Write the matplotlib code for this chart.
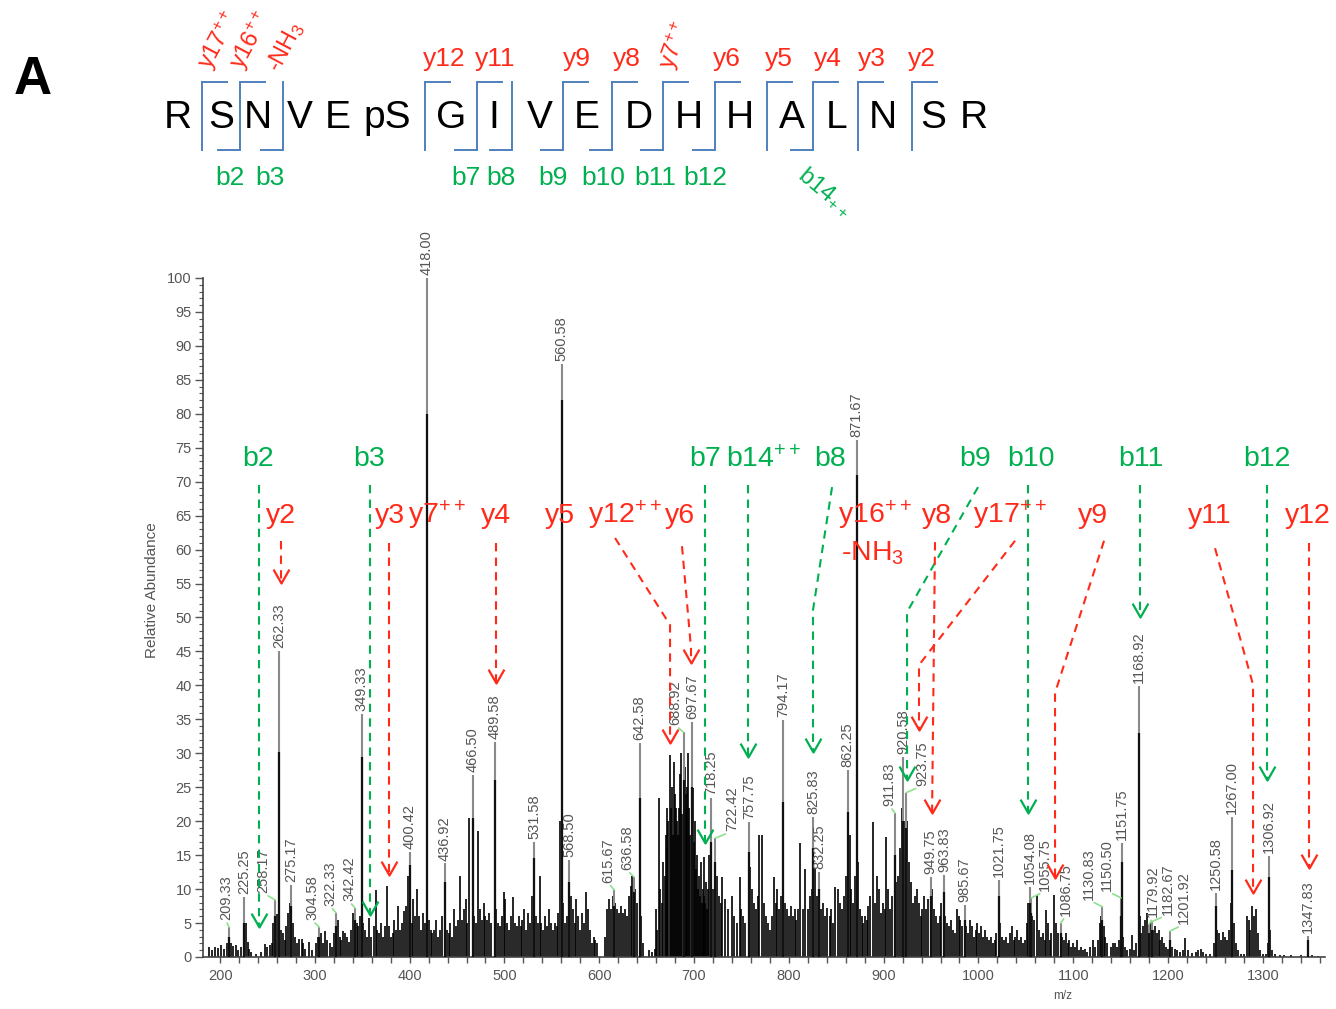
import matplotlib
matplotlib.use('Agg')
import matplotlib.pyplot as plt
from matplotlib.lines import Line2D
from matplotlib.path import Path
from matplotlib.ticker import MultipleLocator, FixedLocator

plt.rcParams['font.family'] = ['Liberation Sans', 'DejaVu Sans']
plt.rcParams['mathtext.fontset'] = 'custom'
plt.rcParams['mathtext.rm'] = 'Liberation Sans'
plt.rcParams['mathtext.it'] = 'Liberation Sans'
plt.rcParams['mathtext.bf'] = 'Liberation Sans:bold'

# ---------------- data ----------------
label_mz = [209.33, 225.25, 258.17, 262.33, 275.17, 304.58, 322.33, 342.42, 349.33, 400.42,
            418.00, 436.92, 466.50, 489.58, 531.58, 560.58, 568.50, 615.67, 636.58, 642.58,
            688.92, 697.67, 718.25, 722.42, 757.75, 794.17, 825.83, 832.25, 862.25, 871.67,
            911.83, 920.58, 923.75, 949.75, 963.83, 985.67, 1021.75, 1054.08, 1055.75, 1086.75,
            1130.83, 1150.50, 1151.75, 1168.92, 1179.92, 1182.67, 1201.92, 1250.58, 1267.00,
            1306.92, 1347.83]
label_h = [4.4, 8.9, 8.4, 45.1, 10.6, 4.4, 6.5, 7.2, 35.8, 15.5,
           100.0, 13.8, 26.8, 31.7, 16.9, 87.3, 14.3, 9.9, 11.8, 31.5,
           33.1, 34.6, 23.4, 17.5, 19.9, 34.9, 20.6, 12.5, 27.5, 76.1,
           21.2, 29.5, 24.2, 11.8, 12.1, 7.7, 11.3, 10.3, 8.7, 5.0,
           7.4, 8.7, 16.8, 39.9, 4.8, 5.2, 3.8, 9.4, 20.6,
           14.9, 3.1]
label_core = [3.0, 5.0, 6.0, 30.2, 7.5, 3.0, 4.5, 5.5, 29.5, 13.5,
              80.0, 11.0, 20.5, 26.0, 14.6, 82.0, 11.0, 7.5, 9.5, 23.4,
              26.0, 25.0, 17.0, 14.0, 15.5, 22.8, 16.0, 10.0, 21.4, 71.0,
              15.0, 20.0, 19.0, 9.0, 9.5, 5.5, 9.0, 8.0, 6.5, 3.5,
              5.5, 6.0, 14.0, 33.0, 3.5, 4.0, 2.5, 7.5, 12.8,
              11.8, 2.5]

noise_mz = [188, 191, 195, 198, 201, 204, 207, 212, 214, 217, 219, 222, 227, 229, 231, 233,
            238, 243, 247, 250, 253, 255, 256, 260, 264, 266, 268, 270, 272, 273.5, 277, 279,
            281, 283, 286, 288, 290, 294, 297, 301, 303, 307, 309, 311, 313, 316, 318, 320,
            324, 326, 328, 330, 332, 334, 336, 338, 340, 344, 346, 348, 351, 353, 355, 357,
            359, 362, 364, 366, 368, 370, 372, 374, 376, 378, 380, 382, 384, 386, 388, 390,
            392, 394, 396, 398, 402, 404, 406, 408, 410, 412, 414, 416, 420, 422, 424, 426,
            428, 430, 432, 434, 439, 441, 443, 445, 447, 449, 451, 453, 455, 457, 459, 461,
            463, 468, 470, 472, 474, 476, 478, 480, 482, 484, 486, 491, 493, 495, 497, 499,
            501, 503, 505, 507, 509, 511, 513, 515, 517, 519, 521, 523, 525, 527, 529, 533,
            535, 537, 539, 541, 543, 545, 547, 549, 551, 553, 555, 557, 559, 562, 564, 566,
            570, 572, 574, 576, 578, 580, 582, 584, 586, 588, 590, 592, 594, 596, 598, 606,
            608, 610, 612, 614, 617, 619, 621, 623, 625, 627, 629, 631, 633, 635, 638, 640,
            644, 646, 652, 656, 659, 660, 661, 663, 664, 666, 667, 669, 670, 671, 672, 673,
            675, 676, 677, 678, 679, 680, 681, 682, 683, 684, 685, 686, 687, 689, 690, 691,
            692, 693, 694, 695, 696, 698, 699, 700, 701, 702, 703, 704, 705, 706, 707, 708,
            709, 710, 711, 712, 713, 714, 715, 716, 720, 724, 726, 728, 730, 733, 736, 740,
            742, 745, 748, 750, 752, 754, 759, 761, 763, 765, 767, 769, 772, 774, 776, 778,
            780, 782, 784, 786, 788, 790, 792, 796, 798, 800, 802, 804, 806, 808, 810, 812,
            815, 817, 820, 822, 824, 828, 830, 834, 836, 838, 840, 843, 845, 847, 849, 852,
            854, 856, 858, 860, 864, 866, 868, 870, 873, 875, 877, 878, 880, 882, 884, 886,
            889, 891, 893, 895, 897, 899, 901, 903, 905, 907, 909, 913, 915, 917, 919, 922,
            925, 927, 929, 931, 933, 935, 937, 939, 941, 943, 945, 947, 951, 953, 955, 957,
            959, 961, 965, 967, 969, 971, 973, 975, 977, 979, 981, 983, 987, 989, 991, 993,
            995, 997, 999, 1001, 1003, 1005, 1007, 1009, 1011, 1013, 1015, 1017, 1019, 1023,
            1025, 1027, 1029, 1031, 1033, 1035, 1037, 1039, 1041, 1043, 1045, 1047, 1049, 1051,
            1052, 1057, 1059, 1062, 1064, 1066, 1068, 1070, 1071, 1073, 1075, 1077, 1080, 1082,
            1084, 1088, 1090, 1092, 1094, 1096, 1098, 1100, 1102, 1104, 1106, 1108, 1110, 1112,
            1115, 1118, 1121, 1123, 1126, 1128, 1129, 1132, 1134, 1136, 1140, 1142, 1144, 1146,
            1148, 1153, 1155, 1157, 1160, 1162, 1164, 1166, 1170, 1172, 1174, 1176, 1178, 1181,
            1184, 1186, 1188, 1190, 1192, 1194, 1196, 1198, 1200, 1204, 1207, 1210, 1213, 1216,
            1218, 1221, 1225, 1229, 1232, 1235, 1237, 1240, 1244, 1248, 1252, 1254, 1256, 1258,
            1260, 1262, 1264, 1266, 1268, 1270, 1272, 1274, 1277, 1280, 1283, 1285, 1287, 1289,
            1291, 1293, 1295, 1297, 1300, 1303, 1305, 1308, 1310, 1313, 1318, 1322, 1330, 1340,
            1352, 1358]
noise_h = [1.5, 1.0, 1.5, 1.3, 1.8, 1.2, 2.0, 2.0, 1.6, 1.8, 1.0, 1.5, 5.0, 2.2, 1.2, 0.8,
           0.5, 0.8, 1.9, 1.5, 1.8, 2.0, 5.0, 6.3, 4.0, 3.5, 2.5, 4.5, 6.5, 8.0, 5.0, 3.0,
           2.0, 2.7, 2.7, 2.0, 1.2, 2.2, 1.0, 2.0, 3.0, 3.5, 2.0, 3.8, 2.5, 2.0, 1.5, 3.5,
           5.5, 3.0, 2.5, 3.8, 3.5, 3.0, 2.2, 4.0, 6.5, 5.0, 4.5, 6.0, 5.0, 4.0, 3.0, 5.8,
           3.0, 4.5, 9.8, 4.0, 3.5, 5.0, 3.0, 4.5, 10.5, 4.5, 3.0, 3.5, 5.5, 4.0, 7.5, 4.0,
           5.0, 6.8, 7.5, 12.0, 5.0, 8.5, 6.0, 10.0, 6.0, 4.0, 6.5, 5.0, 5.5, 4.0, 3.5, 4.0,
           5.5, 3.0, 4.0, 6.0, 4.0, 3.5, 5.0, 3.0, 7.0, 4.5, 5.5, 12.0, 5.5, 7.0, 8.5, 5.0,
           20.5, 6.0, 5.0, 18.5, 7.0, 5.5, 8.0, 6.0, 5.5, 6.5, 5.0, 7.0, 5.0, 4.5, 6.0, 9.5,
           8.5, 5.0, 4.0, 6.0, 8.8, 5.0, 4.5, 6.0, 4.5, 5.5, 7.0, 4.0, 6.5, 5.0, 9.0, 6.0,
           5.0, 12.0, 5.0, 4.0, 6.0, 4.5, 7.0, 5.0, 4.0, 5.0, 4.5, 6.5, 20.0, 8.0, 5.0, 6.0,
           9.0, 7.0, 5.0, 8.5, 6.0, 4.0, 6.5, 5.0, 9.5, 7.0, 4.0, 2.0, 3.0, 2.5, 2.0, 3.0,
           7.0, 8.5, 7.0, 9.0, 8.0, 7.0, 6.5, 7.5, 6.5, 7.0, 6.0, 9.0, 10.5, 12.0, 10.0, 8.0,
           6.0, 2.0, 1.0, 0.8, 1.2, 7.0, 4.0, 23.4, 10.0, 8.0, 14.0, 12.0, 18.0, 16.0, 22.0, 20.0,
           29.7, 22.0, 25.0, 18.0, 28.7, 24.0, 22.0, 20.0, 18.0, 22.0, 27.0, 30.0, 21.0, 30.0, 28.0, 22.0,
           24.0, 25.0, 30.0, 22.0, 18.0, 20.0, 24.9, 17.0, 20.0, 13.0, 15.0, 10.0, 12.0, 9.0, 14.0, 8.0,
           10.0, 9.0, 14.8, 8.0, 11.0, 7.0, 10.0, 15.0, 10.0, 12.0, 9.0, 8.0, 11.8, 8.5, 7.0, 9.0,
           6.0, 5.0, 11.8, 7.0, 6.0, 5.0, 13.3, 10.0, 8.0, 7.0, 9.0, 18.0, 18.0, 8.0, 6.0, 5.0,
           4.0, 6.0, 11.8, 8.0, 10.0, 7.0, 9.0, 8.0, 7.0, 6.0, 7.5, 6.0, 7.0, 5.5, 7.0, 16.8,
           7.0, 13.0, 7.0, 9.0, 10.0, 13.0, 9.0, 7.0, 8.0, 6.0, 7.2, 6.0, 7.0, 5.0, 10.3, 10.0,
           8.0, 7.0, 9.0, 12.0, 18.0, 10.0, 8.0, 12.0, 14.0, 7.0, 6.0, 5.0, 6.0, 5.5, 7.5, 9.0,
           19.9, 8.0, 12.0, 10.0, 6.5, 8.0, 7.0, 17.7, 10.0, 7.0, 9.0, 11.0, 12.0, 16.0, 22.0, 20.0,
           20.0, 14.0, 11.0, 8.0, 9.0, 10.0, 8.0, 6.0, 7.0, 9.0, 7.0, 8.5, 10.0, 7.0, 6.0, 5.0,
           6.0, 8.0, 6.0, 5.0, 4.5, 5.5, 4.0, 3.5, 7.0, 6.0, 5.5, 4.5, 4.5, 3.5, 5.5, 4.5,
           3.0, 4.0, 5.0, 3.5, 4.5, 3.0, 4.0, 3.0, 2.5, 3.0, 2.0, 2.5, 3.5, 5.0,
           3.0, 2.5, 3.0, 2.0, 3.5, 4.5, 2.5, 3.0, 4.0, 2.5, 3.0, 2.0, 2.5, 5.0,
           8.0, 6.0, 5.5, 9.1, 4.0, 3.0, 3.5, 2.5, 6.9, 5.0, 2.5, 3.5, 9.1, 5.0,
           3.5, 3.0, 2.5, 3.5, 2.0, 2.5, 1.5, 2.0, 1.5, 2.5, 1.0, 1.5, 1.0, 1.2,
           0.8, 1.5, 2.5, 1.5, 2.5, 5.0, 6.0, 4.5, 3.0, 2.0, 1.5, 2.1, 2.0, 1.5,
           2.5, 3.0, 1.5, 1.0, 1.2, 3.2, 1.0, 2.0, 6.0, 3.5, 4.5, 5.5, 6.5, 5.0,
           4.0, 4.5, 3.5, 4.0, 2.5, 3.0, 2.0, 1.5, 1.2, 1.5, 1.2, 1.0, 0.8, 1.0,
           2.8, 1.0, 0.6, 0.8, 1.0, 1.2, 0.8, 0.5, 0.4, 2.0, 4.0, 3.5, 2.5, 3.7,
           3.0, 2.5, 4.0, 8.0, 12.0, 5.0, 2.0, 1.0, 0.5, 0.5, 6.0, 5.5, 4.0, 7.5,
           6.0, 7.0, 3.5, 1.0, 0.5, 0.5, 2.0, 4.0, 1.0, 0.5, 0.3, 0.3, 0.3, 0.3,
           0.3, 0.2]

residues = ['R', 'S', 'N', 'V', 'E', 'pS', 'G', 'I', 'V', 'E', 'D', 'H', 'H', 'A', 'L', 'N', 'S', 'R']
y_ion_names = ['y12', 'y11', 'y9', 'y8', 'y6', 'y5', 'y4', 'y3', 'y2']
b_ion_names = ['b2', 'b3', 'b7', 'b8', 'b9', 'b10', 'b11', 'b12']

# ---------------- layout helpers ----------------
W, H = 1336, 1009
fig = plt.figure(figsize=(W / 100, H / 100), dpi=100)


def fx(x):
    return x / W


def fy(y):
    return 1 - y / H


GREEN = '#00b050'
RED = '#ff2a1a'
BLUE = '#4f81bd'
GREY = '#555555'

# panel letter
fig.text(fx(33), fy(80), 'A', fontsize=38, fontweight='bold', ha='center', va='center')

# peptide sequence
res_x = [178, 221, 258, 300, 338, 387, 451, 494, 540, 587, 639, 689, 740, 792, 837, 883, 933, 974]
for r, x in zip(residues, res_x):
    fig.text(fx(x), fy(118), r, fontsize=28, ha='center', va='center', color='black')

# cleavage brackets: (x, has_y_top, has_b_bottom)
sites = [(202, True, False), (240, True, True), (283, False, True), (425, True, False),
         (477, True, True), (512, False, True), (563, True, True), (612, True, True),
         (663, True, True), (715, True, True), (767, True, False), (813, True, True),
         (858, True, False), (912, True, False)]
top_y, bot_y = 82, 150
for x, ty, bb in sites:
    fig.add_artist(Line2D([fx(x), fx(x)], [fy(top_y), fy(bot_y)], color=BLUE, lw=1.4))
    if ty:
        fig.add_artist(Line2D([fx(x), fx(x + 25)], [fy(top_y), fy(top_y)], color=BLUE, lw=1.4))
    if bb:
        fig.add_artist(Line2D([fx(x - 22), fx(x)], [fy(bot_y), fy(bot_y)], color=BLUE, lw=1.4))

y_top_x = [444, 495, 577, 627, 727, 779, 828, 872, 922]
for n, x in zip(y_ion_names, y_top_x):
    fig.text(fx(x), fy(59), n, fontsize=19, color=RED, ha='center', va='center')
fig.text(fx(219), fy(40), r'y17$^{++}$', fontsize=17, color=RED, ha='center', va='center', rotation=62)
fig.text(fx(251), fy(40), r'y16$^{++}$', fontsize=17, color=RED, ha='center', va='center', rotation=62)
fig.text(fx(285), fy(47), r'-NH$_3$', fontsize=17, color=RED, ha='center', va='center', rotation=62)
fig.text(fx(675), fy(46), r'y7$^{++}$', fontsize=17, color=RED, ha='center', va='center', rotation=70)

b_bot_x = [230, 270, 466, 501, 553, 603, 655, 705]
for n, x in zip(b_ion_names, b_bot_x):
    fig.text(fx(x), fy(178), n, fontsize=19, color=GREEN, ha='center', va='center')
fig.text(fx(825), fy(191), r'b14$_{++}$', fontsize=17, color=GREEN, ha='center', va='center', rotation=-40)

# ---------------- spectrum axes ----------------
ax = fig.add_axes([fx(203), 52 / H, (1325 - 203) / W, (957 - 224) / H])
ax.set_xlim(182, 1365.6)
ax.set_ylim(0, 107.95)
for s in ['top', 'right']:
    ax.spines[s].set_visible(False)
ax.spines['left'].set_bounds(0, 100)
for s in ['left', 'bottom']:
    ax.spines[s].set_color('#444444')
    ax.spines[s].set_linewidth(1.2)

ax.yaxis.set_major_locator(FixedLocator(list(range(0, 101, 5))))
ax.yaxis.set_minor_locator(FixedLocator(list(range(0, 101, 1))))
ax.xaxis.set_major_locator(FixedLocator(list(range(200, 1301, 100))))
ax.xaxis.set_minor_locator(FixedLocator(list(range(180, 1361, 20))))
ax.tick_params(axis='y', which='major', length=6, width=1, color='#555555', labelsize=10.5,
               labelcolor=GREY, pad=2)
ax.tick_params(axis='y', which='minor', length=3, width=0.8, color='#555555')
ax.tick_params(axis='x', which='both', length=4, width=1, color='#555555', labelsize=10.5,
               labelcolor=GREY, pad=5)
ax.set_ylabel('Relative Abundance', fontsize=11, color=GREY, labelpad=6)
ax.set_xlabel('m/z', fontsize=8.5, color=GREY, labelpad=6)
ax.xaxis.set_label_coords((1063 - 203) / (1325 - 203), -0.045)

# noise / unlabeled peaks
ax.vlines(noise_mz, 0, noise_h, color='#000000', lw=1.2, zorder=2)
# labeled peaks: grey tip, black core
ax.vlines(label_mz, 0, label_h, color='#8a8a8a', lw=1.5, zorder=3)
ax.vlines(label_mz, 0, label_core, color='#111111', lw=1.6, zorder=3)

# peak labels
label_dx = {209.33: -3, 258.17: -12, 304.58: -7, 322.33: -6, 342.42: -6, 615.67: -6,
            636.58: -7, 688.92: -8, 722.42: 17, 911.83: -5, 923.75: 16, 1055.75: 14,
            1086.75: 5, 1130.83: -14, 1150.50: -14, 1179.92: 4, 1182.67: 16, 1201.92: 14}
for m, h in zip(label_mz, label_h):
    dxp = label_dx.get(m, 0)
    if dxp != 0:
        ax.annotate(f'{m:.2f}', xy=(m, h), xytext=(dxp * 0.72, 5), textcoords='offset points',
                    rotation=90, ha='center', va='bottom', fontsize=10.5, color=GREY,
                    arrowprops=dict(arrowstyle='-', color='#8fe08f', lw=1.2, shrinkA=0,
                                    shrinkB=0, relpos=(0.5, 0)), zorder=5)
    else:
        ax.annotate(f'{m:.2f}', xy=(m, h), xytext=(0, 2), textcoords='offset points',
                    rotation=90, ha='center', va='bottom', fontsize=10.5, color=GREY, zorder=5)

# ---------------- fragment annotations ----------------
vhead = Path([(-0.57, 1.0), (0.0, 0.0), (0.57, 1.0)], [Path.MOVETO, Path.LINETO, Path.LINETO])


def arrow(pts, color):
    xs = [p[0] for p in pts]
    ys = [p[1] for p in pts]
    ax.plot(xs, ys, color=color, lw=1.5, ls=(0, (4, 3)), zorder=6, solid_capstyle='butt')
    ax.plot([xs[-1]], [ys[-1]], marker=vhead, ms=20, mew=1.6, mfc='none', mec=color, zorder=6)


green_arrows = [
    [(241.1, 69.5), (241.1, 4.4)],
    [(358.2, 69.5), (358.2, 6.2)],
    [(711.6, 69.5), (711.6, 16.8)],
    [(757.0, 69.5), (757.0, 29.5)],
    [(845.6, 69.2), (825.5, 51.1), (825.5, 30.2)],
    [(999.6, 69.2), (924.7, 50.8), (924.7, 26.1)],
    [(1052.3, 69.5), (1052.3, 21.2)],
    [(1170.5, 69.5), (1170.5, 50.1)],
    [(1304.4, 69.5), (1304.4, 26.1)],
]
red_arrows = [
    [(264.3, 61.3), (264.3, 55.1)],
    [(378.3, 61.0), (378.3, 12.1)],
    [(491.1, 61.0), (491.1, 40.4)],
    [(616.7, 61.7), (674.7, 48.9), (674.7, 31.5)],
    [(687.3, 60.5), (696.8, 45.5), (696.8, 43.3)],
    [(1038.6, 61.3), (937.3, 43.0), (937.3, 33.4)],
    [(954.2, 61.1), (951.1, 21.2)],
    [(1132.5, 61.3), (1080.8, 38.9), (1080.8, 11.6)],
    [(1249.6, 60.2), (1289.7, 40.1), (1289.7, 9.4)],
    [(1348.7, 61.0), (1348.7, 13.1)],
]
for p in green_arrows:
    arrow(p, GREEN)
for p in red_arrows:
    arrow(p, RED)

green_labels = [('b2', 240.1), ('b3', 357.2), ('b7', 711.6), (r'b14$^{++}$', 773.8), ('b8', 843.5),
                ('b9', 996.4), ('b10', 1055.5), ('b11', 1171.5), ('b12', 1304.4)]
for t, x in green_labels:
    ax.text(x, 73.3, t, color=GREEN, fontsize=20.5, ha='center', va='center', zorder=7)

red_labels = [('y2', 264.3), ('y3', 379.3), (r'y7$^{++}$', 428.9), ('y4', 491.1), ('y5', 558.6),
              (r'y12$^{++}$', 627.2), ('y6', 685.2), (r'y16$^{++}$', 891.0), ('y8', 956.3),
              (r'y17$^{++}$', 1033.0), ('y9', 1120.9), ('y11', 1244.3), ('y12', 1347.7)]
for t, x in red_labels:
    ax.text(x, 65.0, t, color=RED, fontsize=20.5, ha='center', va='center', zorder=7)
ax.text(888.8, 59.5, r'-NH$_3$', color=RED, fontsize=20.5, ha='center', va='center', zorder=7)

fig.savefig('out.png', dpi=100, facecolor='white')
